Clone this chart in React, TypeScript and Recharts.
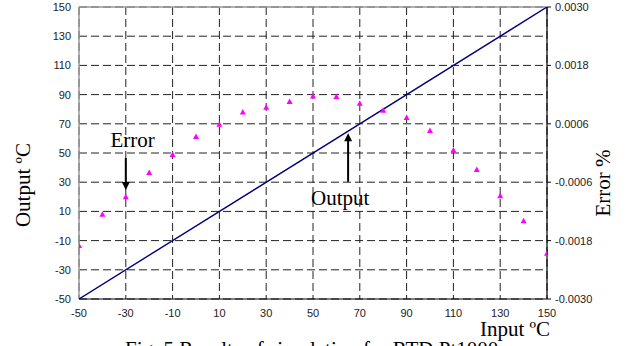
import React from 'react';
import {
  ScatterChart,
  Scatter,
  XAxis,
  YAxis,
  CartesianGrid,
  ReferenceLine,
} from 'recharts';

// ---- data ----
const inputTemps = [-50, -40, -30, -20, -10, 0, 10, 20, 30, 40, 50, 60, 70, 80, 90, 100, 110, 120, 130, 140, 150];
const errorValues = [
  -0.0019, -0.00126, -0.0009, -0.0004, -0.00003, 0.00034, 0.00059, 0.00084, 0.00094, 0.00106, 0.00117,
  0.00116, 0.00102, 0.00088, 0.00073, 0.00046, 0.00006, -0.00034, -0.00088, -0.00139, -0.00206,
];
const outputLineX = [-50, 150];
const outputLineY = [-50, 150];

const xTicks = [-50, -30, -10, 10, 30, 50, 70, 90, 110, 130, 150];
const leftTicks = [-50, -30, -10, 10, 30, 50, 70, 90, 110, 130, 150];
const rightTicks = [-0.003, -0.0018, -0.0006, 0.0006, 0.0018, 0.003];

// annotation arrows (data coordinates): [x, fromY, toY]
const errorArrow = [-30, 46.6, 24.7];
const outputArrow = [65, 30.3, 63.5];

const errorData = inputTemps.map((x, i) => ({ x, y: errorValues[i] }));
const lineData = outputLineX.map((x, i) => ({ x, y: outputLineY[i] }));

const Triangle = (props: any) => {
  const { cx, cy } = props;
  if (cx == null || cy == null) return <g />;
  return (
    <polygon
      points={`${cx},${cy - 3} ${cx - 3},${cy + 2.5} ${cx + 3},${cy + 2.5}`}
      fill="#ff00ff"
    />
  );
};

const NoShape = () => <g />;

const Arrow = (props: any) => {
  const { x1, y1, x2, y2 } = props;
  if ([x1, y1, x2, y2].some((v) => v == null)) return <g />;
  const dir = y2 > y1 ? 1 : -1;
  const headLen = 8;
  const headW = 4;
  return (
    <g>
      <line x1={x1} y1={y1} x2={x2} y2={y2 - dir * headLen + dir * 1} stroke="#000" strokeWidth={2} />
      <polygon
        points={`${x2},${y2} ${x2 - headW},${y2 - dir * headLen} ${x2 + headW},${y2 - dir * headLen}`}
        fill="#000"
      />
    </g>
  );
};

const tickStyle = { fontFamily: 'Liberation Sans, Arial, sans-serif', fontSize: 11, fill: '#222' };
const serif = 'Liberation Serif, Times New Roman, serif';

export default function App() {
  return (
    <div style={{ position: 'absolute', left: 0, top: 0, width: 628, height: 346, background: '#fff' }}>
      <ScatterChart width={628} height={346} margin={{ top: 7, right: 0, bottom: 17, left: 0 }}>
        <CartesianGrid
          yAxisId="left"
          stroke="#222"
          strokeDasharray="8 4"
          strokeWidth={1}
        />
        <XAxis
          type="number"
          dataKey="x"
          domain={[-50, 150]}
          ticks={xTicks}
          interval={0}
          height={30}
          tickLine={false}
          tickSize={5}
          tickMargin={5}
          axisLine={{ stroke: '#000', strokeWidth: 1.2 }}
          tick={tickStyle}
          allowDataOverflow
        />
        <YAxis
          yAxisId="left"
          type="number"
          dataKey="y"
          domain={[-50, 150]}
          ticks={leftTicks}
          interval={0}
          width={79}
          tickLine={false}
          tickSize={5}
          tickMargin={3}
          axisLine={{ stroke: '#999', strokeWidth: 1.5 }}
          tick={tickStyle}
          allowDataOverflow
        />
        <YAxis
          yAxisId="right"
          orientation="right"
          type="number"
          dataKey="y"
          domain={[-0.003, 0.003]}
          ticks={rightTicks}
          interval={0}
          width={81}
          tickSize={4}
          tickMargin={4}
          tickLine={{ stroke: '#000' }}
          axisLine={{ stroke: '#000', strokeWidth: 1.2 }}
          tick={tickStyle}
          tickFormatter={(v: number) => v.toFixed(4)}
          allowDataOverflow
        />
        <ReferenceLine yAxisId="left" y={150} stroke="#999" strokeWidth={1.5} />
        <Scatter
          yAxisId="left"
          data={lineData}
          dataKey="y"
          line={{ stroke: '#000080', strokeWidth: 1.4 }}
          shape={NoShape}
          isAnimationActive={false}
        />
        <Scatter
          yAxisId="right"
          data={errorData}
          dataKey="y"
          shape={Triangle}
          isAnimationActive={false}
        />
        <ReferenceLine
          yAxisId="left"
          segment={[
            { x: errorArrow[0], y: errorArrow[1] },
            { x: errorArrow[0], y: errorArrow[2] },
          ]}
          shape={Arrow}
        />
        <ReferenceLine
          yAxisId="left"
          segment={[
            { x: outputArrow[0], y: outputArrow[1] },
            { x: outputArrow[0], y: outputArrow[2] },
          ]}
          shape={Arrow}
        />
      </ScatterChart>
      <svg
        width={628}
        height={346}
        style={{ position: 'absolute', left: 0, top: 0, pointerEvents: 'none' }}
      >
        <g fontFamily={serif} fontSize={21} fill="#000">
          <text x={110.5} y={147}>Error</text>
          <text x={311} y={205}>Output</text>
          <text x={480} y={336}>Input ºC</text>
          <text x={30} y={185} textAnchor="middle" transform="rotate(-90, 30, 185)">Output ºC</text>
          <text x={610} y={183} textAnchor="middle" transform="rotate(-90, 610, 183)">Error %</text>
          <text x={125} y={356}>Fig. 5 Results of simulation for RTD Pt1000</text>
        </g>
      </svg>
    </div>
  );
}
